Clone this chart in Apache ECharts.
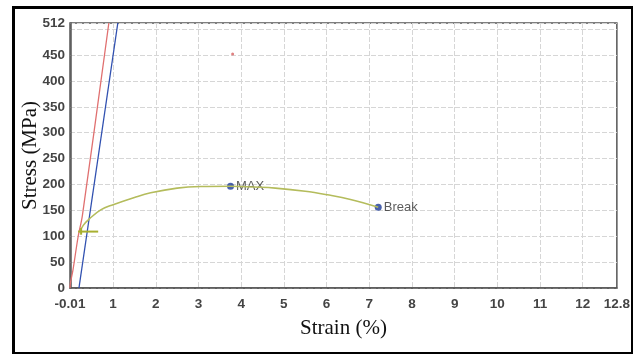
<!DOCTYPE html>
<html>
<head>
<meta charset="utf-8">
<script src="https://cdn.jsdelivr.net/npm/echarts@6/dist/echarts.min.js"></script>
<style>
html, body { margin: 0; padding: 0; background: #fff; }
#main { width: 633px; height: 354px; }
</style>
</head>
<body>
<div id="main"></div>
<script>
// x tick labels (strain %) and y tick labels (stress MPa)
var xLabels = [-0.01, 1, 2, 3, 4, 5, 6, 7, 8, 9, 10, 11, 12, 12.8];
var xGrid = [1, 2, 3, 4, 5, 6, 7, 8, 9, 10, 11, 12];
var yLabels = [0, 50, 100, 150, 200, 250, 300, 350, 400, 450, 512];

// loading curve, elastic line and 0.2% offset line
var redLine = [[-0.01, 0], [0.0, 10], [0.06, 35], [0.18, 99], [0.28, 140], [0.9, 512]];
var offsetLine = [[0.2, 0], [1.11, 512]];
var curve = [[0.22, 108], [0.3, 121], [0.45, 134], [0.71, 151], [1.0, 161], [1.5, 175],
  [1.88, 184], [2.5, 193], [3.05, 196], [3.75, 196.5], [4.3, 195], [4.8, 193],
  [5.5, 187], [6.02, 180], [6.56, 171], [7.21, 156]];
var yieldH = [[0.18, 109], [0.65, 109]];
var yieldV = [[0.25, 103], [0.25, 116]];
var maxPt = [3.75, 196.5];
var breakPt = [7.21, 156];
var stray = [3.8, 452];

var chart = echarts.init(document.getElementById('main'));
var tickFont = { fontFamily: 'Liberation Sans, Arial, sans-serif', fontSize: 13.5, fontWeight: 'bold', color: '#444' };
var gridLine = { lineStyle: { color: '#d6d6d6', width: 1, type: [5, 2] } };

var option = {
  animation: false,
  grid: { left: 70, right: 16, top: 23, bottom: 66, show: true, borderColor: '#555', borderWidth: 1.5 },
  graphic: [{
    type: 'rect', left: 11, top: 5, shape: { width: 619, height: 346 },
    style: { fill: 'none', stroke: '#000', lineWidth: 3 }, silent: true
  }],
  xAxis: {
    type: 'value', min: -0.01, max: 12.8,
    name: 'Strain (%)', nameLocation: 'middle', nameGap: 30, nameMoveOverlap: false,
    nameTextStyle: { fontFamily: 'Liberation Serif, Times New Roman, serif', fontSize: 21, color: '#111' },
    axisLine: { lineStyle: { color: '#555', width: 1.5 } },
    axisTick: { show: false, customValues: xGrid },
    axisLabel: Object.assign({ customValues: xLabels, margin: 9 }, tickFont),
    splitLine: Object.assign({ show: true }, gridLine)
  },
  yAxis: {
    type: 'value', min: 0, max: 512, interval: 50,
    name: 'Stress (MPa)', nameLocation: 'middle', nameGap: 29, nameMoveOverlap: false,
    nameTextStyle: { fontFamily: 'Liberation Serif, Times New Roman, serif', fontSize: 21, color: '#111' },
    axisLine: { show: true, lineStyle: { color: '#555', width: 1.5 } },
    axisTick: { show: false },
    axisLabel: Object.assign({ customValues: yLabels, margin: 5 }, tickFont),
    splitLine: Object.assign({ show: true }, gridLine)
  },
  series: [
    { type: 'line', data: redLine, showSymbol: false, smooth: 0.3, lineStyle: { color: '#e07070', width: 1.3 } },
    { type: 'line', data: offsetLine, showSymbol: false, lineStyle: { color: '#3050b0', width: 1.3 } },
    { type: 'line', data: curve, showSymbol: false, smooth: 0.4, lineStyle: { color: '#b4bc5c', width: 1.6 } },
    { type: 'line', data: yieldH, showSymbol: false, lineStyle: { color: '#a8b030', width: 2 } },
    { type: 'line', data: yieldV, showSymbol: false, lineStyle: { color: '#a8b030', width: 2 } },
    {
      type: 'scatter', symbolSize: 7, itemStyle: { color: '#1c3a96' },
      data: [
        { value: maxPt, label: { show: true, formatter: 'MAX' } },
        { value: breakPt, label: { show: true, formatter: 'Break' } }
      ],
      label: { position: 'right', distance: 2, fontFamily: 'Liberation Sans, Arial, sans-serif', fontSize: 13, color: '#333' }
    },
    { type: 'scatter', symbolSize: 3, data: [stray], itemStyle: { color: '#d86060' } }
  ]
};
chart.setOption(option);
</script>
</body>
</html>
